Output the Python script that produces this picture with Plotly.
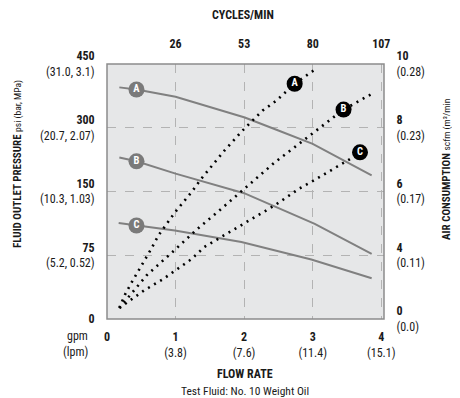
import numpy as np
import plotly.graph_objects as go

# ---- axis ticks / labels ----
flow_gpm_ticks = [0, 1, 2, 3, 4]
flow_tick_text = ["<b>0</b>", "<b>1</b><br>(3.8)", "<b>2</b><br>(7.6)",
                  "<b>3</b><br>(11.4)", "<b>4</b><br>(15.1)"]
cycles_gpm_ticks = [1, 2, 3, 4]
cycles_tick_text = ["<b>26</b>", "<b>53</b>", "<b>80</b>", "<b>107</b>"]
psi_ticks = [0, 75, 150, 300, 450]
psi_tick_text = ["<b>0</b>", "<b>75</b><br>(5.2, 0.52)", "<b>150</b><br>(10.3, 1.03)",
                 "<b>300</b><br>(20.7, 2.07)", "<b>450</b><br>(31.0, 3.1)"]
scfm_ticks = [0, 4, 6, 8, 10]
scfm_tick_text = ["<b>0</b><br>(0.0)", "<b>4</b><br>(0.11)", "<b>6</b><br>(0.17)",
                  "<b>8</b><br>(0.23)", "<b>10</b><br>(0.28)"]

# ---- fluid outlet pressure curves (gpm, psi) ----
press_A_gpm = [0.18, 0.43, 1.0, 1.42, 2.01, 2.49, 3.0, 3.86]
press_A_psi = [395, 390, 373, 352, 324, 294, 262, 188]
press_B_gpm = [0.18, 0.43, 1.0, 2.0, 3.03, 3.86]
press_B_psi = [230, 221, 192, 148, 112, 76.5]
press_C_gpm = [0.17, 0.43, 0.99, 1.96, 2.98, 3.86]
press_C_psi = [113, 110, 104, 90.7, 70, 48]

# ---- air consumption curves (gpm, scfm) ----
air_A_gpm = [0.18, 0.27, 0.38, 0.54, 0.645, 0.75, 0.86, 0.985, 1.24, 1.375, 1.715,
             1.98, 2.27, 2.47, 2.737, 3.03]
air_A_scfm = [0.7, 1.6, 2.45, 3.6, 4.2, 4.62, 4.96, 5.33, 6.0, 6.4, 7.29,
              7.92, 8.54, 8.85, 9.38, 9.82]
air_B_gpm = [0.18, 0.58, 0.985, 1.30, 1.62, 2.01, 2.45, 2.96, 3.45, 3.86]
air_B_scfm = [0.69, 2.75, 4.16, 4.79, 5.37, 6.09, 6.92, 7.76, 8.57, 9.06]
air_C_gpm = [0.18, 0.55, 0.81, 1.03, 1.23, 1.42, 1.67, 2.01, 2.45, 2.81, 2.98, 3.53, 3.69]
air_C_scfm = [0.69, 1.82, 2.48, 3.17, 3.75, 4.26, 4.58, 5.0, 5.57, 6.1, 6.3, 7.0, 7.23]

POS = [0, 1, 2, 3, 4]


def psi_pos(v):
    return np.interp(v, psi_ticks, POS)


def scfm_pos(v):
    return np.interp(v, scfm_ticks, POS)


FONT = "Roboto Condensed, Roboto, sans-serif"
TXT = "#1a1a1a"
SOLID = "#808080"

fig = go.Figure()

for gx, gy in [(press_A_gpm, press_A_psi), (press_B_gpm, press_B_psi), (press_C_gpm, press_C_psi)]:
    fig.add_trace(go.Scatter(x=gx, y=psi_pos(gy), mode="lines",
                             line=dict(color=SOLID, width=2), hoverinfo="skip",
                             showlegend=False))

for gx, gy in [(air_A_gpm, air_A_scfm), (air_B_gpm, air_B_scfm), (air_C_gpm, air_C_scfm)]:
    fig.add_trace(go.Scatter(x=gx, y=scfm_pos(gy), mode="lines", yaxis="y2",
                             line=dict(color="#000000", width=2.6, dash="2px,5px"),
                             hoverinfo="skip", showlegend=False))

# labels on solid curves
lab_x = 0.43
solid_lab_y = [psi_pos(np.interp(lab_x, press_A_gpm, press_A_psi)),
               psi_pos(np.interp(lab_x, press_B_gpm, press_B_psi)),
               psi_pos(np.interp(lab_x, press_C_gpm, press_C_psi))]
fig.add_trace(go.Scatter(x=[lab_x] * 3, y=solid_lab_y, mode="markers+text",
                         marker=dict(size=16, color="#7a7a7a"),
                         text=["<b>A</b>", "<b>B</b>", "<b>C</b>"],
                         textposition="middle center",
                         textfont=dict(color="white", size=10.5, family=FONT),
                         hoverinfo="skip", showlegend=False))

# labels on dotted curves
dot_lab_x = [2.737, 3.45, 3.69]
dot_lab_y = [scfm_pos(np.interp(dot_lab_x[0], air_A_gpm, air_A_scfm)),
             scfm_pos(np.interp(dot_lab_x[1], air_B_gpm, air_B_scfm)),
             scfm_pos(np.interp(dot_lab_x[2], air_C_gpm, air_C_scfm))]
fig.add_trace(go.Scatter(x=dot_lab_x, y=dot_lab_y, mode="markers+text", yaxis="y2",
                         marker=dict(size=16, color="#000000"),
                         text=["<b>A</b>", "<b>B</b>", "<b>C</b>"],
                         textposition="middle center",
                         textfont=dict(color="white", size=10.5, family=FONT),
                         hoverinfo="skip", showlegend=False))

# invisible trace to activate top axis
fig.add_trace(go.Scatter(x=[0], y=[0], xaxis="x2", mode="markers",
                         marker=dict(opacity=0), hoverinfo="skip", showlegend=False))

XR = [0, 4.04]
grid = dict(showgrid=True, gridcolor="#b3b3b3", gridwidth=1, griddash="dash")

# page body has an 8px margin: figure is 452x390 so it sits at window (8..460, 8..398)
fig.update_layout(
    width=452, height=390,
    margin=dict(l=99, r=76, t=56, b=79, autoexpand=False),
    paper_bgcolor="white", plot_bgcolor="#e6e7e8",
    font=dict(family=FONT, size=12, color=TXT),
    xaxis=dict(range=XR, tickvals=flow_gpm_ticks, ticktext=flow_tick_text,
               ticks="outside", ticklen=7, tickcolor="rgba(0,0,0,0)",
               zeroline=False, fixedrange=True, **grid),
    xaxis2=dict(range=XR, overlaying="x", side="top", tickvals=cycles_gpm_ticks,
                ticktext=cycles_tick_text, ticks="outside", ticklen=10,
                tickcolor="rgba(0,0,0,0)", showgrid=False, zeroline=False),
    yaxis=dict(range=[0, 4], tickvals=POS, ticktext=psi_tick_text,
               ticks="outside", ticklen=9, tickcolor="rgba(0,0,0,0)",
               zeroline=False, **grid),
    yaxis2=dict(range=[0, 4], overlaying="y", side="right", tickvals=POS,
                ticktext=scfm_tick_text, ticks="outside", ticklen=9,
                tickcolor="rgba(0,0,0,0)", showgrid=False, zeroline=False),
    shapes=[dict(type="rect", xref="paper", yref="paper", x0=0, x1=1, y0=0, y1=1,
                 line=dict(color="#8c8c8c", width=1.5), layer="above")],
)

PH = 255.0  # plot height in px (window coords 64..319)
PW = 277.0  # plot width in px (window coords 107..384)


def py(pix):
    return (319 - pix) / PH


def px(pix):
    return (pix - 107) / PW


def note(xp, yp, text, size, xanchor="center", angle=0):
    fig.add_annotation(x=px(xp), y=py(yp), xref="paper", yref="paper",
                       xanchor=xanchor, yanchor="middle", textangle=angle,
                       text=text, showarrow=False, font=dict(size=size))


note(243, 15, "<b>CYCLES/MIN</b>", 12)
note(90, 336, "gpm", 12, xanchor="right")
note(90, 352, "(lpm)", 12, xanchor="right")
note(245, 374, "<b>FLOW RATE</b>", 12)
note(245, 391, "Test Fluid: No. 10 Weight Oil", 11.5)
note(17, 164, "<b>FLUID OUTLET PRESSURE</b> <span style='font-size:9.5px'>psi (bar, MPa)</span>",
     11, angle=-90)
note(446, 170, "<b>AIR CONSUMPTION</b> <span style='font-size:9.5px'>scfm (m³/min</span>",
     11, angle=-90)

fig.write_html("out.html")
